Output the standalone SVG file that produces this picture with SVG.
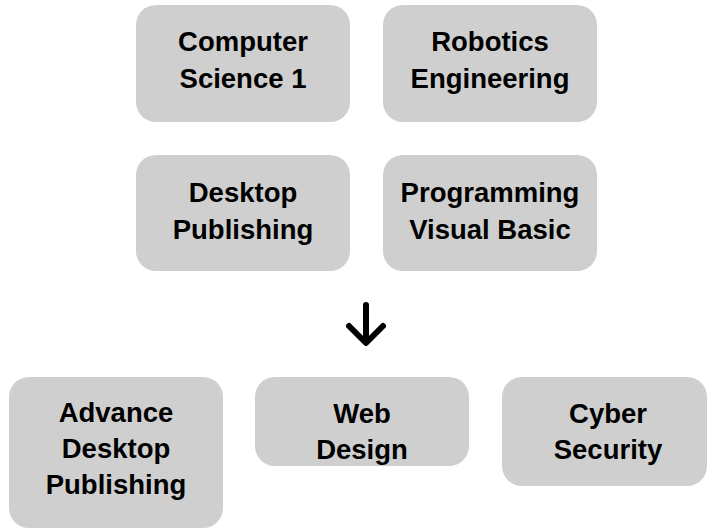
<svg xmlns="http://www.w3.org/2000/svg" width="709" height="529" viewBox="0 0 709 529">
<style>
.box{fill:#cfcfcf;}
.t{font-family:"Liberation Sans",Arial,sans-serif;font-weight:bold;font-size:27.5px;fill:#000;text-anchor:middle;}
.arr{fill:none;stroke:#000;stroke-width:6;stroke-linecap:round;stroke-linejoin:round;}
</style>
<rect width="709" height="529" fill="#fff"/>
<g id="cs1"><rect class="box" x="136" y="5" width="214" height="117" rx="20"/><text class="t" x="243" y="51">Computer</text><text class="t" x="243" y="88">Science 1</text></g>
<g id="robotics"><rect class="box" x="383" y="5" width="214" height="117" rx="20"/><text class="t" x="490" y="51">Robotics</text><text class="t" x="490" y="88">Engineering</text></g>
<g id="desktop"><rect class="box" x="136" y="155" width="214" height="116" rx="20"/><text class="t" x="243" y="202">Desktop</text><text class="t" x="243" y="239">Publishing</text></g>
<g id="vb"><rect class="box" x="383" y="155" width="214" height="116" rx="20"/><text class="t" x="490" y="202">Programming</text><text class="t" x="490" y="239">Visual Basic</text></g>
<g id="connectors"><path class="arr" d="M366 305 V342 M349 326 L366 343 L383 326"/></g>
<g id="adp"><rect class="box" x="9" y="377" width="214" height="151" rx="20"/><text class="t" x="116" y="422">Advance</text><text class="t" x="116" y="458">Desktop</text><text class="t" x="116" y="494">Publishing</text></g>
<g id="web"><rect class="box" x="255" y="377" width="214" height="89" rx="20"/><text class="t" x="362" y="423">Web</text><text class="t" x="362" y="459">Design</text></g>
<g id="cyber"><rect class="box" x="502" y="377" width="205" height="109" rx="20"/><text class="t" x="608" y="423">Cyber</text><text class="t" x="608" y="459">Security</text></g>
</svg>
